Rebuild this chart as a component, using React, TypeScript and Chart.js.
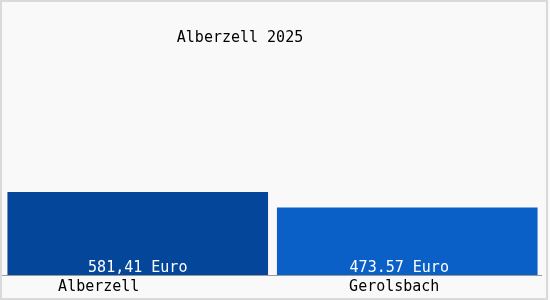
import React, { useEffect, useRef } from "react";
import { Chart, registerables } from "chart.js";

Chart.register(...registerables);

const title = "Alberzell 2025";
const categories = ["Alberzell", "Gerolsbach"];
const values = [581.41, 473.57];
const valueLabels = ["581,41 Euro", "473.57 Euro"];
const barColors = ["#04479a", "#0a60c6"];

const FONT = "15px 'DejaVu Sans Mono', 'Liberation Mono', monospace";
const valueShift = [0, -8];
const catShift = [-39, -13];

const decor = {
  id: "decor",
  beforeDraw(chart: any) {
    const { ctx, width, height } = chart;
    ctx.save();
    ctx.fillStyle = "#f9f9f9";
    ctx.fillRect(0, 0, width, height);
    ctx.strokeStyle = "#dadada";
    ctx.lineWidth = 2;
    ctx.strokeRect(1, 1, width - 4, height - 2);
    ctx.restore();
  },
  afterDatasetsDraw(chart: any) {
    const { ctx, chartArea } = chart;
    const meta = chart.getDatasetMeta(0);
    ctx.save();
    ctx.font = FONT;
    ctx.textAlign = "center";
    ctx.textBaseline = "middle";
    // title
    ctx.fillStyle = "#000";
    ctx.fillText(title, 240, 38);
    // axis line
    ctx.strokeStyle = "#999";
    ctx.lineWidth = 1;
    ctx.beginPath();
    ctx.moveTo(2, chartArea.bottom + 0.5);
    ctx.lineTo(542, chartArea.bottom + 0.5);
    ctx.stroke();
    meta.data.forEach((bar: any, i: number) => {
      ctx.fillStyle = "#ffffff";
      ctx.fillText(valueLabels[i], bar.x + valueShift[i], bar.base - 7);
      ctx.fillStyle = "#000";
      ctx.fillText(categories[i], bar.x + catShift[i], chartArea.bottom + 12);
    });
    ctx.restore();
  },
};

export default function App() {
  const ref = useRef<HTMLCanvasElement>(null);
  useEffect(() => {
    document.body.style.margin = "0";
    const chart = new Chart(ref.current!, {
      type: "bar",
      data: {
        labels: categories,
        datasets: [
          {
            data: values,
            backgroundColor: barColors,
            borderWidth: 0,
            barPercentage: 0.967,
            categoryPercentage: 1,
          },
        ],
      },
      options: {
        animation: false,
        responsive: false,
        maintainAspectRatio: false,
        layout: { padding: { left: 3, right: 8, top: 61, bottom: 25 } },
        plugins: { legend: { display: false }, tooltip: { enabled: false }, title: { display: false } },
        scales: {
          x: { display: false },
          y: { display: false, min: 0, max: 1500 },
        },
      },
      plugins: [decor],
    });
    return () => chart.destroy();
  }, []);
  return (
    <div style={{ position: "absolute", left: 0, top: 0, width: 550, height: 300 }}>
      <canvas ref={ref} width={550} height={300} />
    </div>
  );
}
